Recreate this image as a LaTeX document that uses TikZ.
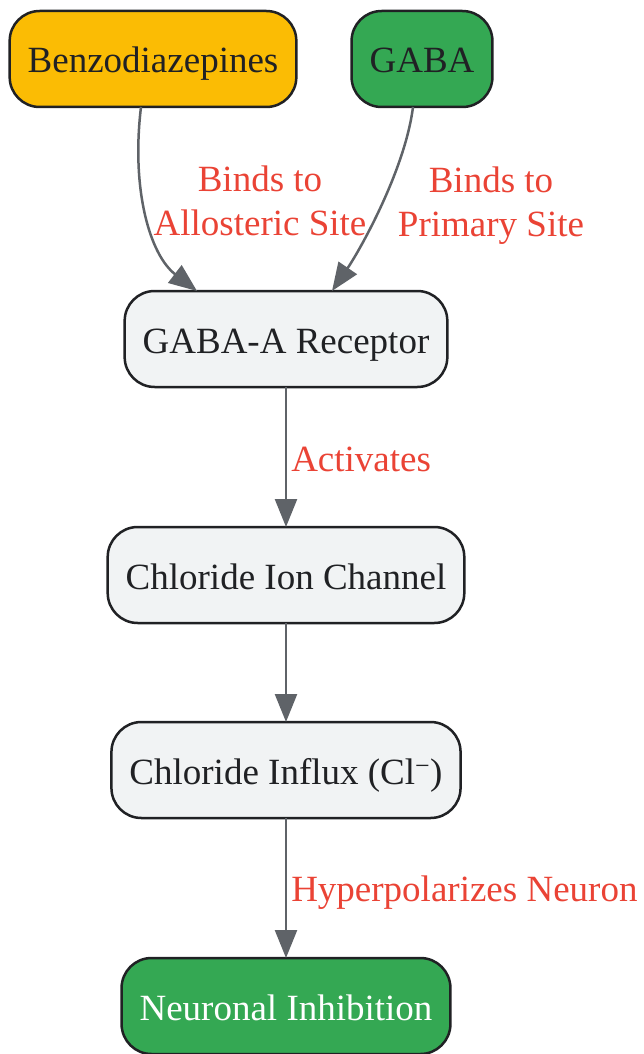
\documentclass[tikz,border=0pt]{standalone}
\usepackage{fontspec}
\setmainfont{Liberation Serif}
\usetikzlibrary{positioning, arrows.meta}
\definecolor{amarillo}{HTML}{FBBC04}
\definecolor{verde}{HTML}{34A853}
\definecolor{grisclaro}{HTML}{F1F3F4}
\definecolor{borde}{HTML}{202124}
\definecolor{flecha}{HTML}{5F6368}
\definecolor{rojo}{HTML}{EA4335}
\tikzstyle{caja} = [draw=borde, line width=2.5pt, rectangle, rounded corners=30pt, minimum height=96pt, inner xsep=18pt, outer sep=0pt, text height=34pt, text depth=6pt, text=borde, font=\fontsize{37}{44}\selectfont]
\tikzstyle{paso} = [caja, fill=grisclaro]
\tikzstyle{flechita} = [draw=flecha, line width=2.5pt, -{Triangle[length=28pt, width=22pt]}]
\tikzstyle{etiqueta} = [text=rojo, align=center, inner xsep=4pt, font=\fontsize{37}{44}\selectfont]

\begin{document}
\begin{tikzpicture}[x=1pt, y=-1pt]
	\useasboundingbox (0,0) rectangle (644,1054);
	\node[caja, fill=amarillo] (benzo) at (153,59) {Benzodiazepines};
	\node[caja, fill=verde] (gaba) at (422,59) {GABA};
	\node[paso] (receptor) at (286,339) {GABA-A Receptor};
	\node[paso, below=140pt of receptor] (canal) {Chloride Ion Channel};
	\node[paso, below=99pt of canal] (influjo) {Chloride Influx (Cl\textsuperscript{−})};
	\node[caja, fill=verde, text=white, below=140pt of influjo] (inhibicion) {Neuronal Inhibition};
	\draw[flechita] ([xshift=-12pt]benzo.south) .. controls (131,190) and (150,255) .. ([xshift=-89pt]receptor.north)
		node[etiqueta] at (260,201) {Binds to\\Allosteric Site};
	\draw[flechita] ([xshift=-9pt]gaba.south) .. controls (405,170) and (360,250) .. ([xshift=46pt]receptor.north)
		node[etiqueta] at (491,206) {Binds to\\Primary Site};
	\draw[flechita] (receptor) -- (canal) node[etiqueta, midway, right, yshift=-2pt] {Activates};
	\draw[flechita] (canal) -- (influjo);
	\draw[flechita] (influjo) -- (inhibicion) node[etiqueta, midway, right, yshift=-5pt] {Hyperpolarizes Neuron};
\end{tikzpicture}
\end{document}
